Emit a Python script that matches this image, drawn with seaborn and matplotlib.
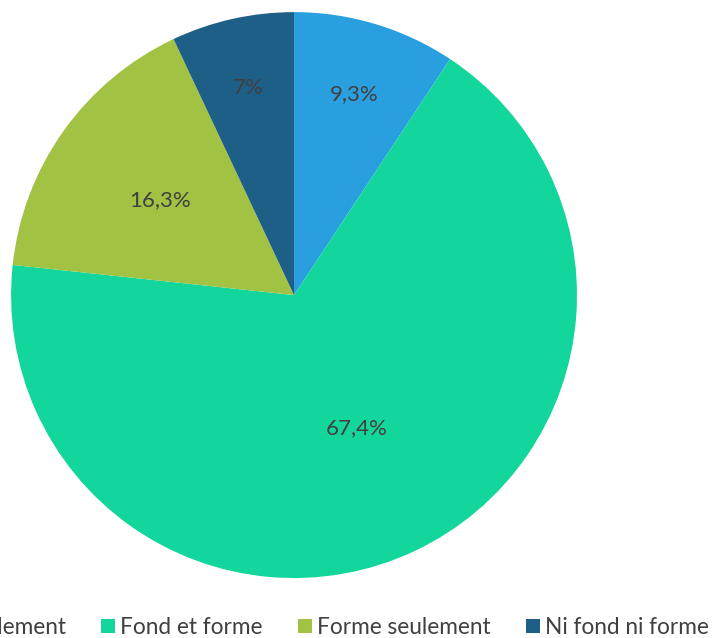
import matplotlib.pyplot as plt
import seaborn as sns
import numpy as np

# Response categories and shares (%)
categories = ['Fond seulement', 'Fond et forme', 'Forme seulement', 'Ni fond ni forme']
shares = [9.3, 67.4, 16.3, 7.0]
labels = ['9,3%', '67,4%', '16,3%', '7%']

sns.set_theme(style='white')
plt.rcParams['font.family'] = ['Lato', 'DejaVu Sans']

colors = ['#2a9fe0', '#12d69b', '#a1c243', '#1d5f87']

fig = plt.figure(figsize=(7.16, 6.38), dpi=100)
ax = fig.add_axes([0.0154, 0.094, 0.7905, 0.887])

wedges, _ = ax.pie(shares, colors=colors, startangle=90, counterclock=False,
                   wedgeprops={'linewidth': 0})
ax.set_aspect('equal')
ax.set_xlim(-1, 1)
ax.set_ylim(-1, 1)

# put the percentage labels roughly where the original has them
dists = [0.74, 0.52, 0.58, 0.75]
for w, lab, d in zip(wedges, labels, dists):
    ang = np.deg2rad((w.theta1 + w.theta2) / 2)
    ax.text(d * np.cos(ang), d * np.sin(ang), lab, ha='center', va='center',
            fontsize=16, color='#404040')

leg = fig.legend(wedges, categories, loc='lower right', bbox_to_anchor=(1.003, -0.014),
                 ncol=4, frameon=False, fontsize=16.3, handlelength=0.6, handleheight=0.6,
                 handletextpad=0.25, columnspacing=1.55, borderaxespad=0)
for t in leg.get_texts():
    t.set_color('#404040')

plt.savefig('out.png', dpi=100)
